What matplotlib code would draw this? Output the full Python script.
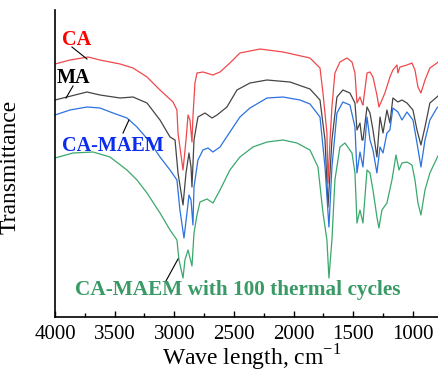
import matplotlib
matplotlib.use("Agg")
import matplotlib.pyplot as plt
from matplotlib.ticker import MultipleLocator

plt.rcParams['font.family'] = ['Liberation Serif', 'DejaVu Serif']
plt.rcParams['mathtext.fontset'] = 'custom'
plt.rcParams['mathtext.rm'] = 'Liberation Serif'

# ---- data (wavenumber, cm-1 ; transmittance, arbitrary offset units) ----
ca_w = [4000, 3874, 3723, 3623, 3455, 3346, 3229, 3120, 3011, 2978, 2969, 2927, 2902, 2885, 2869,
        2852, 2844, 2827, 2810, 2760, 2676, 2617, 2534, 2450, 2282, 2089, 1863, 1779, 1754, 1721,
        1712, 1695, 1679, 1654, 1612, 1553, 1511, 1486, 1469, 1444, 1427, 1419, 1385, 1360, 1335,
        1302, 1285, 1260, 1235, 1193, 1168, 1134, 1126, 1109, 1050, 1008, 983, 958, 933, 899, 858,
        799, 790]
ca_t = [253, 257, 260, 257, 253, 249, 240, 227, 215, 207, 184, 147, 177, 202, 197,
        175, 200, 234, 244, 245, 242, 245, 254, 264, 268, 265, 259, 249, 224, 184,
        134, 177, 210, 244, 255, 259, 255, 244, 214, 220, 214, 212, 244, 245, 240,
        222, 210, 217, 224, 240, 247, 252, 244, 250, 252, 254, 247, 230, 224, 237, 249,
        254, 255]

ma_w = [4000, 3899, 3732, 3623, 3455, 3346, 3229, 3120, 3036, 2994, 2969, 2927, 2902, 2877, 2860,
        2852, 2835, 2802, 2743, 2684, 2642, 2559, 2475, 2366, 2223, 2031, 1863, 1779, 1737, 1712,
        1679, 1637, 1587, 1528, 1486, 1469, 1444, 1427, 1419, 1385, 1360, 1335, 1302, 1276, 1251,
        1218, 1193, 1168, 1126, 1092, 1050, 1000, 966, 933, 899, 858, 799, 790]
ma_t = [217, 220, 225, 222, 219, 220, 214, 197, 180, 177, 144, 112, 144, 164, 150,
        130, 177, 200, 204, 199, 202, 210, 227, 234, 237, 235, 228, 217, 177, 110,
        177, 220, 227, 224, 214, 187, 194, 177, 177, 210, 204, 187, 160, 200, 184,
        207, 194, 219, 215, 217, 214, 207, 187, 172, 190, 214, 220, 221]

cm_w = [4000, 3874, 3732, 3623, 3514, 3397, 3313, 3204, 3120, 3036, 2978, 2953, 2919, 2894, 2877,
        2860, 2844, 2835, 2802, 2760, 2718, 2676, 2617, 2534, 2450, 2366, 2223, 2089, 1947, 1863,
        1779, 1737, 1704, 1679, 1637, 1587, 1528, 1486, 1469, 1444, 1419, 1385, 1360, 1335, 1302,
        1276, 1251, 1218, 1193, 1168, 1126, 1092, 1050, 1000, 966, 933, 899, 858, 799, 790]
cm_t = [202, 207, 210, 209, 204, 199, 190, 175, 160, 147, 137, 107, 79, 104, 122,
        117, 92, 130, 157, 167, 169, 165, 170, 185, 200, 209, 219, 220, 217, 213,
        200, 150, 90, 150, 204, 215, 212, 190, 144, 165, 150, 200, 177, 167, 144,
        170, 164, 184, 187, 209, 205, 197, 205, 197, 174, 150, 177, 197, 209, 210]

tc_w = [4000, 3849, 3682, 3539, 3397, 3313, 3229, 3120, 3036, 2978, 2961, 2927, 2911, 2885, 2852,
        2835, 2810, 2785, 2726, 2676, 2617, 2534, 2450, 2341, 2223, 2089, 1972, 1863, 1796, 1754,
        1721, 1704, 1679, 1654, 1612, 1570, 1511, 1486, 1469, 1444, 1419, 1385, 1360, 1335, 1302,
        1285, 1260, 1218, 1176, 1142, 1117, 1092, 1050, 1008, 983, 958, 933, 899, 858, 799, 790]
tc_t = [159, 164, 165, 160, 147, 137, 124, 104, 87, 77, 57, 39, 57, 67, 51,
        84, 102, 115, 118, 114, 127, 147, 160, 170, 175, 177, 174, 167, 150, 104,
        77, 39, 77, 137, 170, 174, 164, 144, 94, 107, 94, 147, 144, 127, 100,
        89, 107, 114, 137, 162, 147, 154, 155, 152, 137, 114, 102, 127, 144, 159, 161]

labels = ['CA', 'MA', 'CA-MAEM', 'CA-MAEM with 100 thermal cycles']
line_colors = ['#f0484c', '#454545', '#2b72e0', '#3aa86c']
text_colors = ['#ff0000', '#000000', '#0a2cf0', '#3a9a66']
text_sizes = [14.5, 14.5, 14.5, 15.3]

fig = plt.figure(figsize=(4.38, 3.74), dpi=100)
ax = fig.add_axes([55/438, 57/374, 383/438, 307/374])

for w, t, c in zip([ca_w, ma_w, cm_w, tc_w], [ca_t, ma_t, cm_t, tc_t], line_colors):
    ax.plot(w, t, color=c, lw=0.9)

ax.set_xlim(4000, 790)
ax.set_ylim(0, 307)
ax.xaxis.set_major_locator(MultipleLocator(500))
ax.xaxis.set_minor_locator(MultipleLocator(250))
ax.tick_params(axis='x', which='major', direction='in', length=4.5, width=1.0,
               labelsize=15, pad=6)
ax.tick_params(axis='x', which='minor', direction='in', length=3, width=1.0)
ax.set_yticks([])
for s in ['top', 'right']:
    ax.spines[s].set_visible(False)
for s in ['left', 'bottom']:
    ax.spines[s].set_linewidth(1.2)

ax.set_xlabel('Wave length, cm$^{\\mathregular{-1}}$', fontsize=17)
ax.xaxis.set_label_coords(0.514, -0.085)
ax.set_ylabel('Transmittance', fontsize=17)
ax.yaxis.set_label_coords(-0.09, 0.49)

# labels with leader lines
txt_pos = [(0.018, 0.902), (0.005, 0.778), (0.018, 0.557), (0.052, 0.088)]
for lab, (tx, ty), c, fs in zip(labels, txt_pos, text_colors, text_sizes):
    ax.text(tx, ty, lab, transform=ax.transAxes, color=c, fontsize=fs,
            fontweight='bold', ha='left', va='center')

leaders = [((3858, 270), (3732, 258)), ((3849, 231), (3908, 219)),
           ((3430, 184), (3380, 197)), ((3070, 36), (2969, 58))]
for (p0, p1) in leaders:
    ax.plot([p0[0], p1[0]], [p0[1], p1[1]], color='black', lw=0.8)

fig.savefig('out.png', dpi=100)
